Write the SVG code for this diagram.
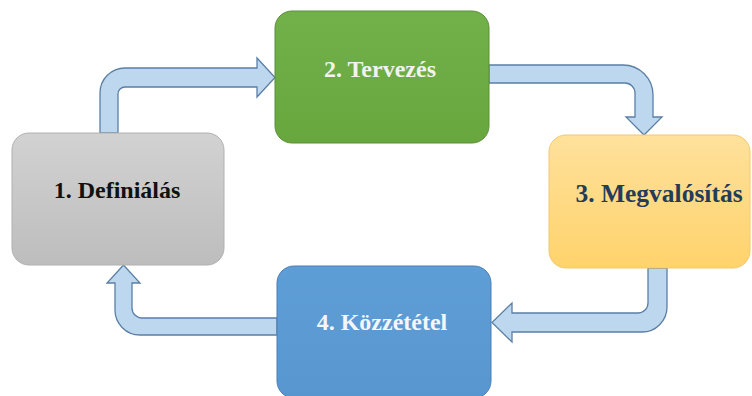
<svg xmlns="http://www.w3.org/2000/svg" width="752" height="396" viewBox="0 0 752 396">
<style>
.lbl{font-family:"Liberation Serif","Times New Roman",serif;font-weight:bold;font-size:24px;text-anchor:middle}
.arrow{fill:#bdd7ee;stroke:#5a7fa6;stroke-width:1.3;stroke-linejoin:miter}
</style>
<defs>
<linearGradient id="gGray" x1="0" y1="0" x2="0" y2="1"><stop offset="0" stop-color="#d2d2d2"/><stop offset="1" stop-color="#bdbdbd"/></linearGradient>
<linearGradient id="gGreen" x1="0" y1="0" x2="0" y2="1"><stop offset="0" stop-color="#72b04a"/><stop offset="1" stop-color="#68a63e"/></linearGradient>
<linearGradient id="gYellow" x1="0" y1="0" x2="0" y2="1"><stop offset="0" stop-color="#ffe19c"/><stop offset="1" stop-color="#ffd36c"/></linearGradient>
<linearGradient id="gBlue" x1="0" y1="0" x2="0" y2="1"><stop offset="0" stop-color="#5e9ed7"/><stop offset="1" stop-color="#5896d0"/></linearGradient>
</defs>
<rect width="752" height="396" fill="#ffffff"/>
<g id="connectors">
<path class="arrow" d="M100,133 L100,93 A25,25 0 0 1 125,68 L257,68 L257,58 L275,77.5 L257,97 L257,87 L125,87 A7,7 0 0 0 118,94 L118,133 Z"/>
<path class="arrow" d="M489,65 L623,65 A30,30 0 0 1 653,95 L653,117 L662,117 L644,135 L626,117 L635,117 L635,93 A10,10 0 0 0 625,83 L489,83 Z"/>
<path class="arrow" d="M667,268 L667,307 A25,25 0 0 1 642,332 L512,332 L512,342 L492,322.5 L512,303 L512,313 L638,313 A10,10 0 0 0 648,303 L648,268 Z"/>
<path class="arrow" d="M277,318 L142,318 A10,10 0 0 1 132,308 L132,283 L140,283 L123.5,265 L107,283 L115,283 L115,310 A25,25 0 0 0 140,335 L277,335 Z"/>
</g>
<g id="node1">
<rect x="12" y="133" width="212" height="132" rx="17" fill="url(#gGray)" stroke="#b0b0b0" stroke-width="1"/>
<text class="lbl" x="117" y="198" fill="#111111">1. Definiálás</text>
</g>
<g id="node2">
<rect x="275" y="11" width="214" height="132" rx="17" fill="url(#gGreen)" stroke="#5a8f38" stroke-width="1"/>
<text class="lbl" x="380" y="77" fill="#f2f2ee">2. Tervezés</text>
</g>
<g id="node3">
<rect x="549" y="135" width="201" height="133" rx="17" fill="url(#gYellow)" stroke="#f3c86c" stroke-width="1"/>
<text class="lbl" x="659" y="202" fill="#243b5a" style="font-size:25.5px">3. Megvalósítás</text>
</g>
<g id="node4">
<rect x="277" y="266" width="214" height="132" rx="17" fill="url(#gBlue)" stroke="#4a7fb5" stroke-width="1"/>
<text class="lbl" x="382" y="330" fill="#f4f6fa">4. Közzététel</text>
</g>
</svg>
